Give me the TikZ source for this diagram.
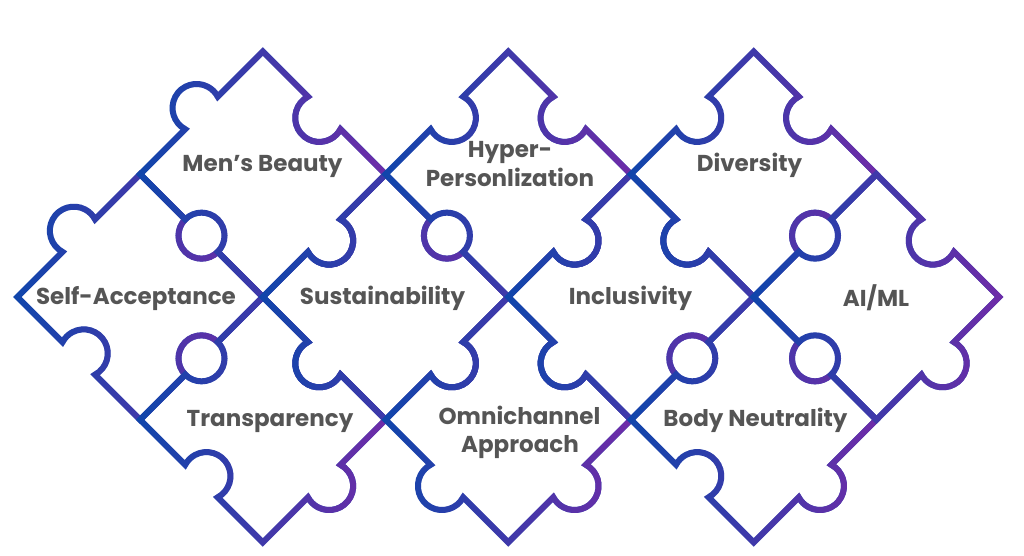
\documentclass[tikz,border=0pt]{standalone}
\usepackage{fontspec}
\setmainfont{Poppins}
\usetikzlibrary{fadings}
\definecolor{pblue}{RGB}{16,70,172}
\definecolor{ppurple}{RGB}{112,44,168}
\definecolor{ptext}{RGB}{85,85,85}
% knob: outward (ko), inward (ki), round socket centred on the edge (kc)
\def\sg{63.76}
\def\ko#1{-- ++(#1:\sg) arc[start angle={#1+196.9}, end angle={#1-16.9}, radius=24.04]}
\def\ki#1{-- ++(#1:\sg) arc[start angle={#1+163.1}, end angle={#1+376.9}, radius=24.04]}
\def\kc#1{-- ++(#1:\sg) arc[start angle={#1+180}, end angle={#1+360}, radius=23]}
\newcommand\piecepath[5]{(#1) #2{45} -- ++(45:\sg) #3{-45} -- ++(-45:\sg) #4{-135} -- ++(-135:\sg) #5{135} -- cycle}
\newcommand\piece[5]{%
  \draw[pblue, piecestroke] \piecepath{#1}{#2}{#3}{#4}{#5};
  \draw[ppurple, piecestroke, path fading=west] \piecepath{#1}{#2}{#3}{#4}{#5};
}
\tikzset{
  piecestroke/.style={line width=6pt, line join=miter},
  lbl/.style={text=ptext, font=\fontsize{23}{27}\selectfont\bfseries, inner sep=0pt, anchor=base}
}
\begin{document}
\begin{tikzpicture}[x=1pt,y=1pt]
\useasboundingbox (0,0) rectangle (1024,556);
% left vertices of the pieces
\coordinate (SA)  at ({508.25-4*122.7},259);
\coordinate (SU)  at ({508.25-2*122.7},259);
\coordinate (IN)  at (508.25,259);
\coordinate (AI)  at ({508.25+2*122.7},259);
\coordinate (MB)  at ({508.25-3*122.7},{259+122.7});
\coordinate (HP)  at ({508.25-1*122.7},{259+122.7});
\coordinate (DI)  at ({508.25+1*122.7},{259+122.7});
\coordinate (TR)  at ({508.25-3*122.7},{259-122.7});
\coordinate (OM)  at ({508.25-1*122.7},{259-122.7});
\coordinate (BN)  at ({508.25+1*122.7},{259-122.7});
% pieces: edges top-left, top-right, bottom-right, bottom-left
\piece{SA}{\ko}{\kc}{\kc}{\ki}
\piece{MB}{\ko}{\ki}{\ko}{\kc}
\piece{TR}{\kc}{\ki}{\ko}{\ki}
\piece{SU}{\ki}{\kc}{\ko}{\ko}
\piece{HP}{\ki}{\ki}{\ko}{\kc}
\piece{OM}{\ki}{\ki}{\ko}{\ko}
\piece{IN}{\ki}{\ki}{\kc}{\ko}
\piece{DI}{\ki}{\ki}{\kc}{\ko}
\piece{BN}{\kc}{\kc}{\ko}{\ki}
\piece{AI}{\kc}{\ki}{\ko}{\kc}
% labels
\node[lbl] (tmb) at (262.5,384) {Men’s Beauty};
\node[lbl] (tsa) at (136,251) {Self-Acceptance};
\node[lbl] (tsu) at (382.5,251) {Sustainability};
\node[lbl] (thp1) at (510,398) {Hyper-};
\node[lbl] (thp2) at (510,369) {Personlization};
\node[lbl] (tin) at (630.5,251) {Inclusivity};
\node[lbl] (tdi) at (749.5,384) {Diversity};
\node[lbl] (tai) at (876,249) {AI/ML};
\node[lbl] (ttr) at (270,129) {Transparency};
\node[lbl] (tom1) at (519.5,131) {Omnichannel};
\node[lbl] (tom2) at (520,103) {Approach};
\node[lbl] (tbn) at (755.5,129) {Body Neutrality};
\end{tikzpicture}
\end{document}
